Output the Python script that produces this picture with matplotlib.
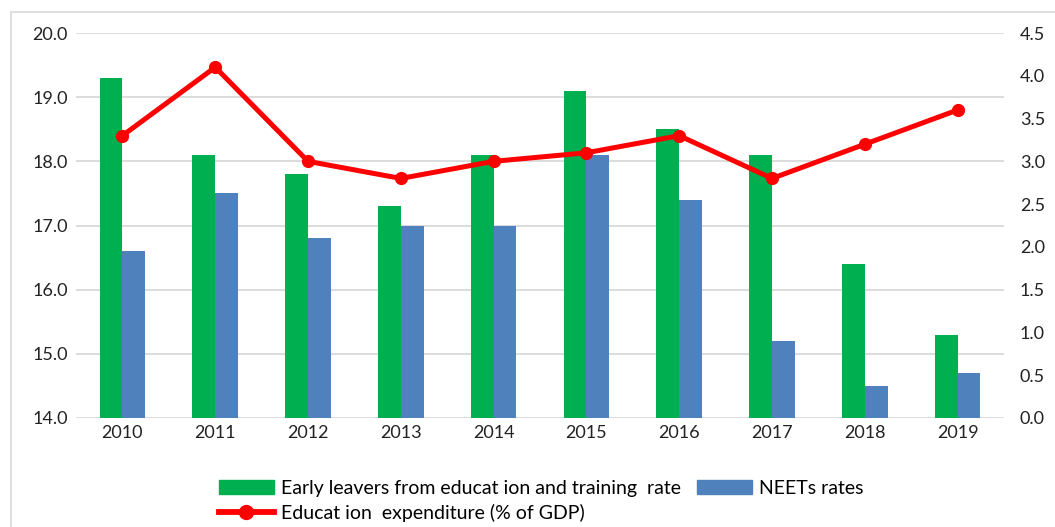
import matplotlib.pyplot as plt
import numpy as np
from matplotlib.lines import Line2D
from matplotlib.patches import Patch, Rectangle

plt.rcParams['font.family'] = ['Lato', 'DejaVu Sans']

years = ['2010', '2011', '2012', '2013', '2014', '2015', '2016', '2017', '2018', '2019']
early_leavers = [19.3, 18.1, 17.8, 17.3, 18.1, 19.1, 18.5, 18.1, 16.4, 15.3]
neets = [16.6, 17.5, 16.8, 17.0, 17.0, 18.1, 17.4, 15.2, 14.5, 14.7]
expenditure = [3.3, 4.1, 3.0, 2.8, 3.0, 3.1, 3.3, 2.8, 3.2, 3.6]

green = '#00b050'
blue = '#4f81bd'
red = '#ff0000'
grid_c = '#d9d9d9'

fig = plt.figure(figsize=(10.55, 5.27), dpi=100)
# light frame around the chart area (runs off the right and bottom edges)
fig.patches.append(Rectangle((11 / 1055, -0.1), 1.2, 1 - 12 / 527 + 0.1,
                             transform=fig.transFigure, fill=False,
                             edgecolor='#d9d9d9', linewidth=1.2))

ax = fig.add_axes([76 / 1055, 1 - 418 / 527, 928 / 1055, 385 / 527])
x = np.arange(len(years))
w = 0.245
ax.bar(x - w / 2, early_leavers, w, color=green, zorder=2)
ax.bar(x + w / 2, neets, w, color=blue, zorder=2)
ax.set_ylim(14, 20)
ax.set_xlim(-0.5, len(years) - 0.5)
ax.set_yticks(np.arange(14, 20.01, 1.0))
ax.set_yticklabels([f'{v:.1f}' for v in np.arange(14, 20.01, 1.0)])
ax.set_xticks(x)
ax.set_xticklabels(years)
ax.grid(axis='y', color=grid_c, linewidth=1.3, zorder=0)
ax.set_axisbelow(True)
for s in ax.spines.values():
    s.set_visible(False)
ax.tick_params(axis='both', length=0, labelsize=13, colors='#222222')
ax.tick_params(axis='y', pad=6)
ax.tick_params(axis='x', pad=5)

ax2 = ax.twinx()
ax2.plot(x, expenditure, color=red, linewidth=3.6, marker='o', markersize=8.5, zorder=3)
ax2.set_ylim(0, 4.5)
ax2.set_yticks(np.arange(0, 4.51, 0.5))
ax2.set_yticklabels([f'{v:.1f}' for v in np.arange(0, 4.51, 0.5)])
for s in ax2.spines.values():
    s.set_visible(False)
ax2.tick_params(axis='y', length=0, labelsize=13, colors='#222222', pad=11.5)

handles = [Patch(color=green),
           Line2D([], [], color=red, linewidth=4.2, marker='o', markersize=10),
           Patch(color=blue)]
labels = ['Early leavers from educat ion and training  rate',
          'Educat ion  expenditure (% of GDP)',
          'NEETs rates']
fig.legend(handles, labels, ncol=2, loc='center', bbox_to_anchor=(541 / 1055, 1 - 501 / 527),
           frameon=False, fontsize=14, handlelength=2.85, handleheight=0.72,
           columnspacing=0.8, labelspacing=0.35, handletextpad=0.35)

fig.savefig('out.png', dpi=100)
